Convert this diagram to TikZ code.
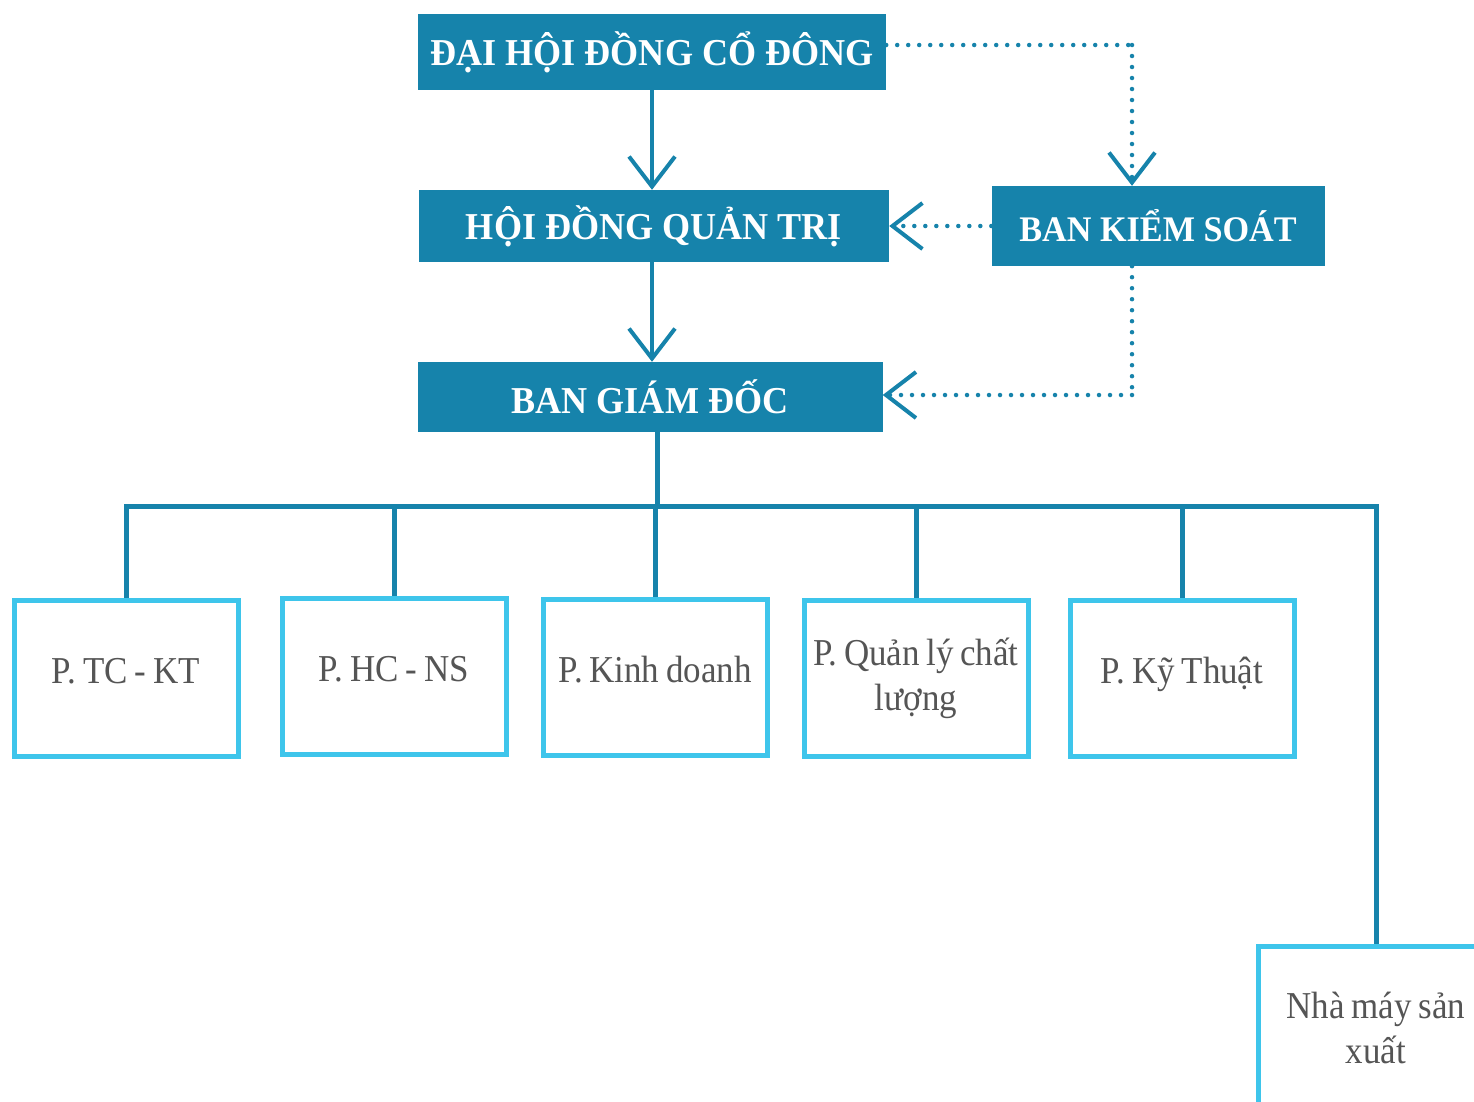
\documentclass[tikz,border=0pt]{standalone}
\usepackage{fontspec}
\setmainfont{Liberation Serif}
\newfontfamily\headfont[FakeStretch=0.95]{Liberation Serif Bold}
\newfontfamily\condfont[FakeStretch=0.92]{Liberation Serif}
\usetikzlibrary{arrows.meta}
\definecolor{darkbox}{HTML}{1683AB}
\definecolor{lightbox}{HTML}{3EC5EB}
\definecolor{txtgray}{HTML}{555555}
\newcommand{\deptfont}{\condfont\fontsize{38}{45}\selectfont\frenchspacing}
\newcommand{\tightsp}{\spaceskip=6.5pt plus 1pt\relax\xspaceskip=6.5pt plus 1pt\relax}
\tikzset{
  headbox/.style={fill=darkbox, text=white, inner sep=0pt, font=\headfont\fontsize{38}{44}\selectfont},
  deptbox/.style={draw=lightbox, line width=5pt, fill=white, inner sep=0pt, minimum width=224pt, minimum height=156pt,
     text=txtgray, align=center, text width=224pt, font=\deptfont},
  oneline/.style={text height=25pt, text depth=15pt},
  tip/.style={-{Straight Barb[length=30pt,width=46pt,line width=4pt]}},
  solidcon/.style={draw=darkbox, line width=4pt, tip},
  dotcon/.style={draw=darkbox, line width=4.5pt, line cap=round, dash pattern=on 0pt off 11pt, tip},
  dotplain/.style={draw=darkbox, line width=4.5pt, line cap=round, dash pattern=on 0pt off 11pt},
  treecon/.style={draw=darkbox, line width=5pt},
}
\begin{document}
\begin{tikzpicture}[x=1pt,y=-1pt]
\useasboundingbox (0,0) rectangle (1474,1101);
\clip (0,0) rectangle (1474,1101);
% head boxes
\node[headbox, minimum width=468pt, minimum height=76pt] (dhdcd) at (652,52) {ĐẠI HỘI ĐỒNG CỔ ĐÔNG};
\node[headbox, minimum width=470pt, minimum height=72pt] (hdqt) at (654,226) {HỘI ĐỒNG QUẢN TRỊ};
\node[headbox, minimum width=333pt, minimum height=80pt] (bks) at (1158,226) {\fontsize{36}{44}\selectfont BAN KIỂM SOÁT};
\node[headbox, minimum width=465pt, minimum height=70pt] (bgd) at (650,397) {BAN GIÁM ĐỐC};
% departments
\node[deptbox, oneline] (p1) at (126,678) {\tightsp P. TC - KT};
\node[deptbox, oneline] (p2) at (394,676) {\tightsp P. HC - NS};
\node[deptbox, oneline] (p3) at (655,677) {\tightsp P. Kinh doanh};
\node[deptbox] (p4) at (916,678) {\tightsp P. Quản lý chất\\lượng};
\node[deptbox, oneline] (p5) at (1182,678) {\tightsp P. Kỹ Thuật};
\node[deptbox, minimum width=236pt, text width=236pt, minimum height=164pt] (p6) at (1376,1028) {\tightsp Nhà máy sản\\xuất};
% solid arrows
\draw[solidcon] (dhdcd.south) -- (dhdcd.south |- hdqt.north);
\draw[solidcon] (hdqt.south -| dhdcd.south) -- (dhdcd.south |- bgd.north);
% dotted connections
\coordinate (c1) at (1132,45);
\coordinate (c2) at (1132,395);
\draw[dotplain] (dhdcd.east |- c1) -- (c1);
\draw[dotcon] (c1) -- (c1 |- bks.north);
\draw[dotcon] (bks.west) -- (bks.west -| hdqt.east);
\draw[dotplain] (bks.south -| c1) -- (c2);
\draw[dotcon] (c2) -- (c2 -| bgd.east);
% tree
\coordinate (b0) at (657,506);
\draw[treecon] (bgd.south -| b0) -- (b0);
\draw[treecon, line cap=rect] (p1.north |- b0) -- (p6.north |- b0);
\foreach \p in {p1,p2,p3,p4,p5,p6} \draw[treecon] (\p.north |- b0) -- (\p.north);
\end{tikzpicture}
\end{document}
